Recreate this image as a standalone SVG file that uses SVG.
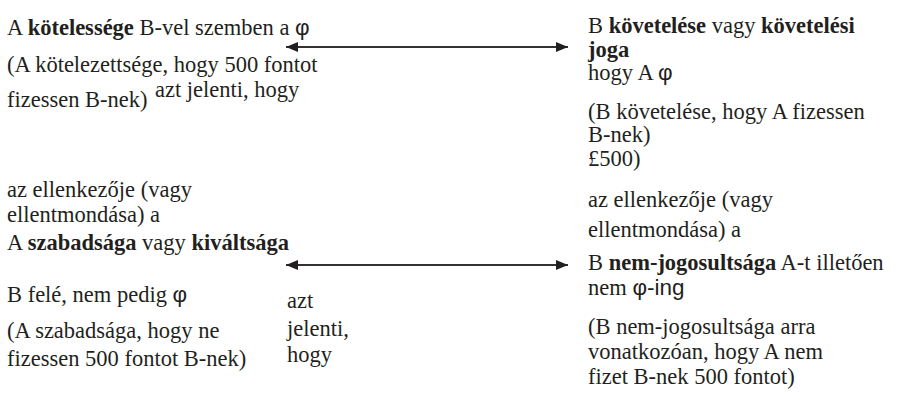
<svg xmlns="http://www.w3.org/2000/svg" width="899" height="409" viewBox="0 0 899 409">
  <defs>
    <marker id="head" viewBox="0 0 12 10" refX="12" refY="5" markerWidth="12" markerHeight="10" markerUnits="userSpaceOnUse" orient="auto-start-reverse">
      <path d="M0,0 L12,5 L0,10 Z" fill="#231f20"/>
    </marker>
  </defs>
  <style>
    .t { font-family: "Liberation Serif", "Times New Roman", serif; font-size: 22.5px; fill: #231f20; }
    .b { font-weight: bold; }
    .s { font-family: "Liberation Sans", Arial, sans-serif; }
    .link { stroke: #333333; stroke-width: 1.8; fill: none; }
  </style>
  <rect width="899" height="409" fill="#ffffff"/>

  <!-- double-headed links between the paired positions -->
  <g id="connectors">
    <line class="link" x1="286" y1="47" x2="568" y2="47" marker-start="url(#head)" marker-end="url(#head)"/>
    <line class="link" x1="286" y1="265" x2="568" y2="265" marker-start="url(#head)" marker-end="url(#head)"/>
  </g>

  <g class="t">
    <g id="duty">
      <text x="7" y="35">A <tspan class="b">kötelessége</tspan> B-vel szemben a <tspan class="s">φ</tspan></text>
      <text x="7" y="72">(A kötelezettsége, hogy 500 fontot</text>
      <text x="7" y="107">fizessen B-nek)</text>
      <text x="155" y="97">azt jelenti, hogy</text>
    </g>

    <g id="claim">
      <text x="588" y="33">B <tspan class="b">követelése</tspan> vagy <tspan class="b">követelési</tspan></text>
      <text x="588" y="57" class="b">joga</text>
      <text x="588" y="80">hogy A <tspan class="s">φ</tspan></text>
      <text x="588" y="119">(B követelése, hogy A fizessen</text>
      <text x="588" y="142">B-nek)</text>
      <text x="588" y="166">£500)</text>
      <text x="588" y="207">az ellenkezője (vagy</text>
      <text x="588" y="237">ellentmondása) a</text>
    </g>

    <g id="liberty">
      <text x="7" y="197">az ellenkezője (vagy</text>
      <text x="7" y="222">ellentmondása) a</text>
      <text x="7" y="250">A <tspan class="b">szabadsága</tspan> vagy <tspan class="b">kiváltsága</tspan></text>
      <text x="7" y="302">B felé, nem pedig <tspan class="s">φ</tspan></text>
      <text x="7" y="338">(A szabadsága, hogy ne</text>
      <text x="7" y="366">fizessen 500 fontot B-nek)</text>
      <text x="287" y="308">azt</text>
      <text x="287" y="336">jelenti,</text>
      <text x="287" y="362">hogy</text>
    </g>

    <g id="no-claim">
      <text x="588" y="270">B <tspan class="b">nem-jogosultsága</tspan> A-t illetően</text>
      <text x="588" y="295">nem <tspan class="s">φ-ing</tspan></text>
      <text x="588" y="334">(B nem-jogosultsága arra</text>
      <text x="588" y="359">vonatkozóan, hogy A nem</text>
      <text x="588" y="384">fizet B-nek 500 fontot)</text>
    </g>
  </g>
</svg>
